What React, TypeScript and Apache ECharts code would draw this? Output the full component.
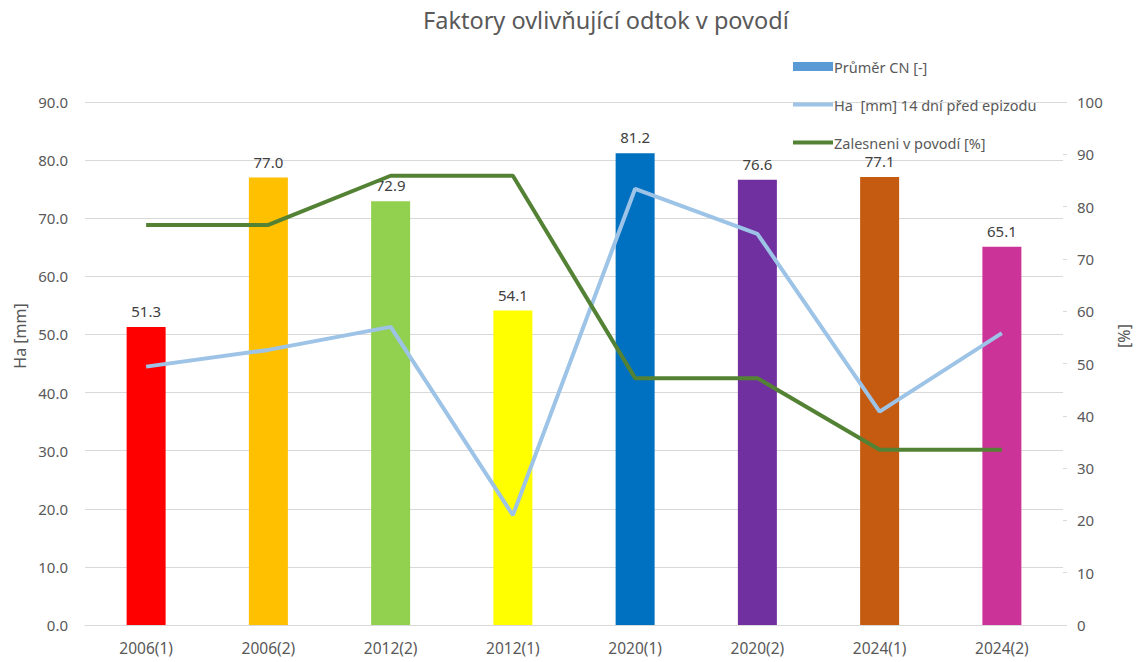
import React, { useEffect, useRef } from "react";
import * as echarts from "echarts";

const categories = ["2006(1)", "2006(2)", "2012(2)", "2012(1)", "2020(1)", "2020(2)", "2024(1)", "2024(2)"];
const cnValues = [51.3, 77.0, 72.9, 54.1, 81.2, 76.6, 77.1, 65.1];
const barColors = ["#FF0000", "#FFC000", "#92D050", "#FFFF00", "#0070C0", "#7030A0", "#C55A11", "#CC3399"];
const haValues = [49.4, 52.6, 57.0, 21.0, 83.4, 74.8, 40.8, 55.8];
const forestValues = [76.5, 76.5, 85.9, 85.9, 47.2, 47.2, 33.5, 33.5];
const leftTicks = { min: 0, max: 90, interval: 10 };
const rightTicks = { min: 0, max: 100, interval: 10 };

const TEXT = "#595959";
const GRID = "#D9D9D9";
const FONT = "'Noto Sans', 'Open Sans', sans-serif";

export default function App() {
  const ref = useRef<HTMLDivElement>(null);
  useEffect(() => {
    if (!ref.current) return;
    const chart = echarts.init(ref.current, null, { renderer: "svg" });
    chart.setOption({
      animation: false,
      backgroundColor: "#FFFFFF",
      title: {
        text: "Faktory ovlivňující odtok v povodí",
        left: 418,
        top: 3,
        textStyle: { color: TEXT, fontSize: 23.5, fontWeight: "normal", fontFamily: FONT },
      },
      legend: {
        orient: "vertical",
        left: 786,
        top: 54,
        itemWidth: 40,
        itemHeight: 9,
        itemGap: 23,
        textStyle: { color: TEXT, fontSize: 14.5, fontFamily: FONT, lineHeight: 14, padding: [0, 0, 0, -4] },
        data: [
          { name: "Průměr CN [-]", icon: "rect" },
          { name: "Ha  [mm] 14 dní před epizodu", itemStyle: { opacity: 0 }, lineStyle: { width: 4, color: "#9DC3E6" } },
          { name: "Zalesneni v povodí [%]", itemStyle: { opacity: 0 }, lineStyle: { width: 4, color: "#548235" } },
        ],
      },
      grid: { left: 85, right: 78, top: 102, bottom: 37 },
      xAxis: {
        type: "category",
        data: categories,
        axisLine: { show: true, lineStyle: { color: GRID, width: 1 } },
        axisTick: { show: false },
        axisLabel: { color: TEXT, fontSize: 15.5, margin: 15, fontFamily: FONT },
      },
      yAxis: [
        {
          type: "value",
          min: leftTicks.min,
          max: leftTicks.max,
          interval: leftTicks.interval,
          axisLine: { show: false },
          axisTick: { show: false },
          axisLabel: {
            color: TEXT,
            fontSize: 15,
            margin: 17,
            fontFamily: FONT,
            formatter: (v: number) => v.toFixed(1),
          },
          splitLine: { show: true, lineStyle: { color: GRID, width: 1 } },
        },
        {
          type: "value",
          min: rightTicks.min,
          max: rightTicks.max,
          interval: rightTicks.interval,
          position: "right",
          axisLine: { show: false },
          axisTick: { show: true, length: 4, lineStyle: { color: GRID } },
          axisLabel: { color: TEXT, fontSize: 15, margin: 14, fontFamily: FONT },
          splitLine: { show: false },
        },
      ],
      graphic: [
        {
          type: "text",
          x: 20,
          y: 336,
          rotation: Math.PI / 2,
          style: {
            text: "Ha [mm]",
            fill: TEXT,
            fontSize: 16,
            fontFamily: FONT,
            align: "center",
            verticalAlign: "middle",
          },
        },
        {
          type: "text",
          x: 1124,
          y: 336,
          rotation: Math.PI / 2,
          style: {
            text: "[%]",
            fill: TEXT,
            fontSize: 16,
            fontFamily: FONT,
            align: "center",
            verticalAlign: "middle",
          },
        },
      ],
      series: [
        {
          name: "Průměr CN [-]",
          type: "bar",
          yAxisIndex: 0,
          barWidth: 39,
          itemStyle: { color: "#5B9BD5" },
          data: cnValues.map((v, i) => ({ value: v, itemStyle: { color: barColors[i] } })),
          label: {
            show: true,
            position: "top",
            distance: 9,
            color: "#404040",
            fontSize: 15,
            lineHeight: 14,
            fontFamily: FONT,
            formatter: (p: any) => Number(p.value).toFixed(1),
          },
          z: 2,
        },
        {
          name: "Ha  [mm] 14 dní před epizodu",
          type: "line",
          yAxisIndex: 1,
          data: haValues,
          symbol: "none",
          lineStyle: { color: "#9DC3E6", width: 4 },
          itemStyle: { color: "#9DC3E6" },
          z: 3,
        },
        {
          name: "Zalesneni v povodí [%]",
          type: "line",
          yAxisIndex: 1,
          data: forestValues,
          symbol: "none",
          lineStyle: { color: "#548235", width: 4 },
          itemStyle: { color: "#548235" },
          z: 4,
        },
      ],
    });
    return () => chart.dispose();
  }, []);
  return (
    <div
      ref={ref}
      style={{ position: "fixed", left: 0, top: 0, width: 1141, height: 662 }}
    />
  );
}
